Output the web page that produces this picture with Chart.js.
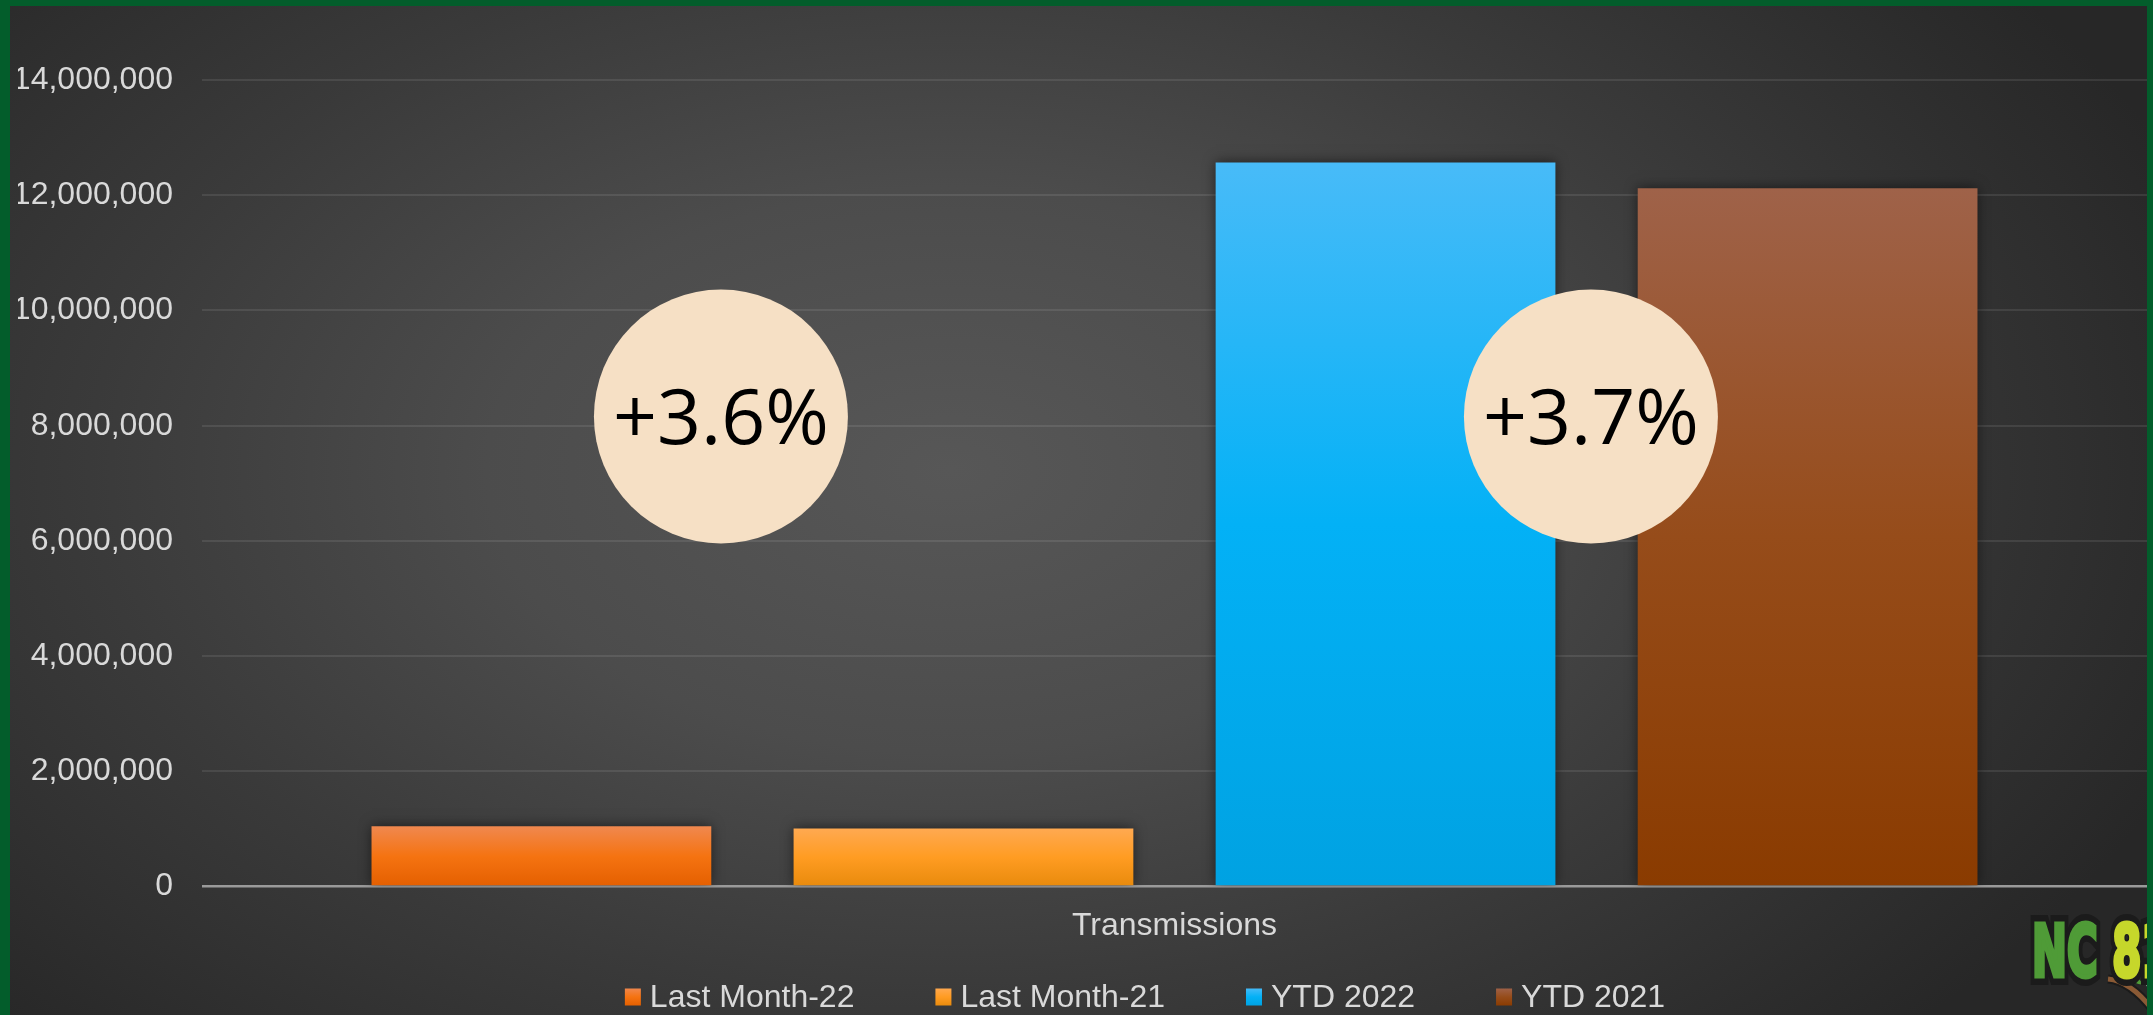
<!DOCTYPE html>
<html>
<head>
<meta charset="utf-8">
<script src="https://cdn.jsdelivr.net/npm/chart.js@4.4.1/dist/chart.umd.min.js"></script>
<style>
    html, body { margin: 0; padding: 0; }
    body { width: 2153px; height: 1015px; background: #035d2b; position: relative; overflow: hidden; }
    #wrap {
        position: absolute; left: 10px; top: 6px; width: 2137px; height: 1009px; overflow: hidden;
        background: radial-gradient(ellipse 62% 80% at 44% 46%, #575757 0%, #4c4c4c 35%, #3a3a3a 65%, #272727 100%);
    }
    #chart { position: absolute; left: 0; top: 0; }
    .logo {
        position: absolute; left: 2022px; top: 909px; white-space: nowrap;
        font-family: "DejaVu Sans", sans-serif; font-weight: bold;
        font-size: 72px; line-height: 1; transform: scaleX(0.58); transform-origin: left top;
    }
    #logoBack { color: #1b1b1b; -webkit-text-stroke: 18px #1b1b1b; }
    #logoFront span { -webkit-text-stroke: 5px currentColor; }
    #logoFront .nc { color: #4f9b37; }
    #logoFront .num { color: #c6d72b; }
    #mark { position: absolute; left: 2090px; top: 965px; }
</style>
</head>
<body>
<div id="wrap">
    <canvas id="chart" width="2137" height="1009"></canvas>
    <svg id="mark" width="60" height="50" viewBox="0 0 60 50">
        <path d="M8 8 Q30 10 52 38" stroke="#1b1b1b" stroke-width="9" fill="none"/>
        <path d="M8 8 Q30 10 52 38" stroke="#8a5a35" stroke-width="5" fill="none"/>
        <path d="M18 2 Q34 0 44 14 Q30 12 18 2 Z" fill="#4f9b37"/>
        <path d="M40 0 L58 0 L58 30 Q48 22 40 0 Z" fill="#b9bcc0"/>
    </svg>
    <div class="logo" id="logoBack">NC 811</div>
    <div class="logo" id="logoFront"><span class="nc">NC</span> <span class="num">811</span></div>
</div>
<script>
// Data
const categories = ["Transmissions"];
const seriesNames = ["Last Month-22", "Last Month-21", "YTD 2022", "YTD 2021"];
const lastMonth22 = [1046000];
const lastMonth21 = [1010000];
const ytd2022 = [12570000];
const ytd2021 = [12120000];
const badgeLabels = ["+3.6%", "+3.7%"];
const badgeValues = [8160000, 8160000];

// Colours (top, middle, bottom of each bar)
const barColors = [
    ["#f0884f", "#f57311", "#e45f00"],
    ["#ffa951", "#ff9c22", "#e88a0c"],
    ["#48bbf8", "#03b1f6", "#00a2e2"],
    ["#9f6249", "#964c1a", "#8a3b00"]
];
const textColor = "#d9d9d9";

// Element
let chartElement = document.querySelector("#chart");

// Function
const barGradient = (ctx, colors) => {
    const chart = ctx.chart;
    if (!chart.chartArea || ctx.raw === undefined) {
        return colors[1];
    }
    const y = chart.scales.y;
    const top = y.getPixelForValue(ctx.raw);
    const bottom = y.getPixelForValue(0);
    const g = chart.ctx.createLinearGradient(0, top, 0, bottom);
    g.addColorStop(0, colors[0]);
    g.addColorStop(0.5, colors[1]);
    g.addColorStop(1, colors[2]);
    return g;
}

const makeDataset = (label, data, colors) => {
    return {
        label: label,
        data: data,
        backgroundColor: (ctx) => barGradient(ctx, colors),
        legendColor: colors,
        borderWidth: 0,
        categoryPercentage: 0.868,
        barPercentage: 0.805
    };
}

// Plugins
const barShadow = {
    id: "barShadow",
    beforeDatasetsDraw(chart) {
        const ctx = chart.ctx;
        ctx.save();
        ctx.shadowColor = "rgba(0,0,0,0.55)";
        ctx.shadowBlur = 12;
    },
    afterDatasetsDraw(chart) {
        chart.ctx.restore();
    }
};

const badges = {
    id: "badges",
    afterDatasetsDraw(chart, args, opts) {
        const ctx = chart.ctx;
        const area = chart.chartArea;
        const y = chart.scales.y;
        badgeLabels.forEach((label, i) => {
            const cx = area.left + (area.right - area.left) * opts.xFractions[i];
            const cy = y.getPixelForValue(badgeValues[i]);
            ctx.save();
            ctx.beginPath();
            ctx.arc(cx, cy, opts.radius, 0, Math.PI * 2);
            ctx.fillStyle = "#f6e0c5";
            ctx.fill();
            ctx.fillStyle = "#000000";
            ctx.font = "77px 'Open Sans'";
            ctx.textAlign = "center";
            ctx.textBaseline = "alphabetic";
            ctx.fillText(label, cx, cy + 28);
            ctx.restore();
        });
    }
};

const customLegend = {
    id: "customLegend",
    afterDraw(chart, args, opts) {
        const ctx = chart.ctx;
        ctx.save();
        ctx.font = "32px 'Liberation Sans'";
        const items = chart.data.datasets.map(ds => ({
            label: ds.label,
            colors: ds.legendColor,
            textWidth: ctx.measureText(ds.label).width
        }));
        const total = items.reduce((s, it) => s + opts.box + opts.gap + it.textWidth, 0) + opts.spacing * (items.length - 1);
        const area = chart.chartArea;
        let x = (area.left + area.right) / 2 + opts.shift - total / 2;
        const yc = opts.y;
        items.forEach(it => {
            const g = ctx.createLinearGradient(0, yc - 9, 0, yc + 9);
            g.addColorStop(0, it.colors[0]);
            g.addColorStop(0.5, it.colors[1]);
            g.addColorStop(1, it.colors[2]);
            ctx.fillStyle = g;
            ctx.fillRect(x, yc - 8.5, opts.box, 17);
            x += opts.box + opts.gap;
            ctx.fillStyle = textColor;
            ctx.textBaseline = "middle";
            ctx.fillText(it.label, x, yc + 1);
            x += it.textWidth + opts.spacing;
        });
        ctx.restore();
    }
};

// Init
new Chart(chartElement, {
    type: "bar",
    data: {
        labels: categories,
        datasets: [
            makeDataset(seriesNames[0], lastMonth22, barColors[0]),
            makeDataset(seriesNames[1], lastMonth21, barColors[1]),
            makeDataset(seriesNames[2], ytd2022, barColors[2]),
            makeDataset(seriesNames[3], ytd2021, barColors[3])
        ]
    },
    plugins: [barShadow, badges, customLegend],
    options: {
        responsive: false,
        animation: false,
        layout: {
            padding: {top: 74, left: 8, right: 0, bottom: 50}
        },
        plugins: {
            legend: {display: false},
            tooltip: {enabled: false},
            badges: {xFractions: [0.2668, 0.7141], radius: 127},
            customLegend: {box: 16, gap: 9, spacing: 81, shift: -29.5, y: 991}
        },
        scales: {
            x: {
                grid: {display: false, drawTicks: false},
                border: {display: false},
                ticks: {
                    color: textColor,
                    padding: 20,
                    font: {family: "'Liberation Sans'", size: 32, lineHeight: 1.2}
                }
            },
            y: {
                min: 0,
                max: 14000000,
                border: {display: false},
                afterFit: (scale) => {
                    scale.width = 184;
                },
                grid: {
                    drawTicks: false,
                    color: (ctx) => ctx.tick && ctx.tick.value === 0 ? "#9a9a9a" : "rgba(255,255,255,0.09)",
                    lineWidth: (ctx) => ctx.tick && ctx.tick.value === 0 ? 2.5 : 2
                },
                ticks: {
                    stepSize: 2000000,
                    color: textColor,
                    padding: 29,
                    font: {family: "'Liberation Sans'", size: 32},
                    callback: (value) => value.toLocaleString("en-US")
                }
            }
        }
    }
});
</script>
</body>
</html>
